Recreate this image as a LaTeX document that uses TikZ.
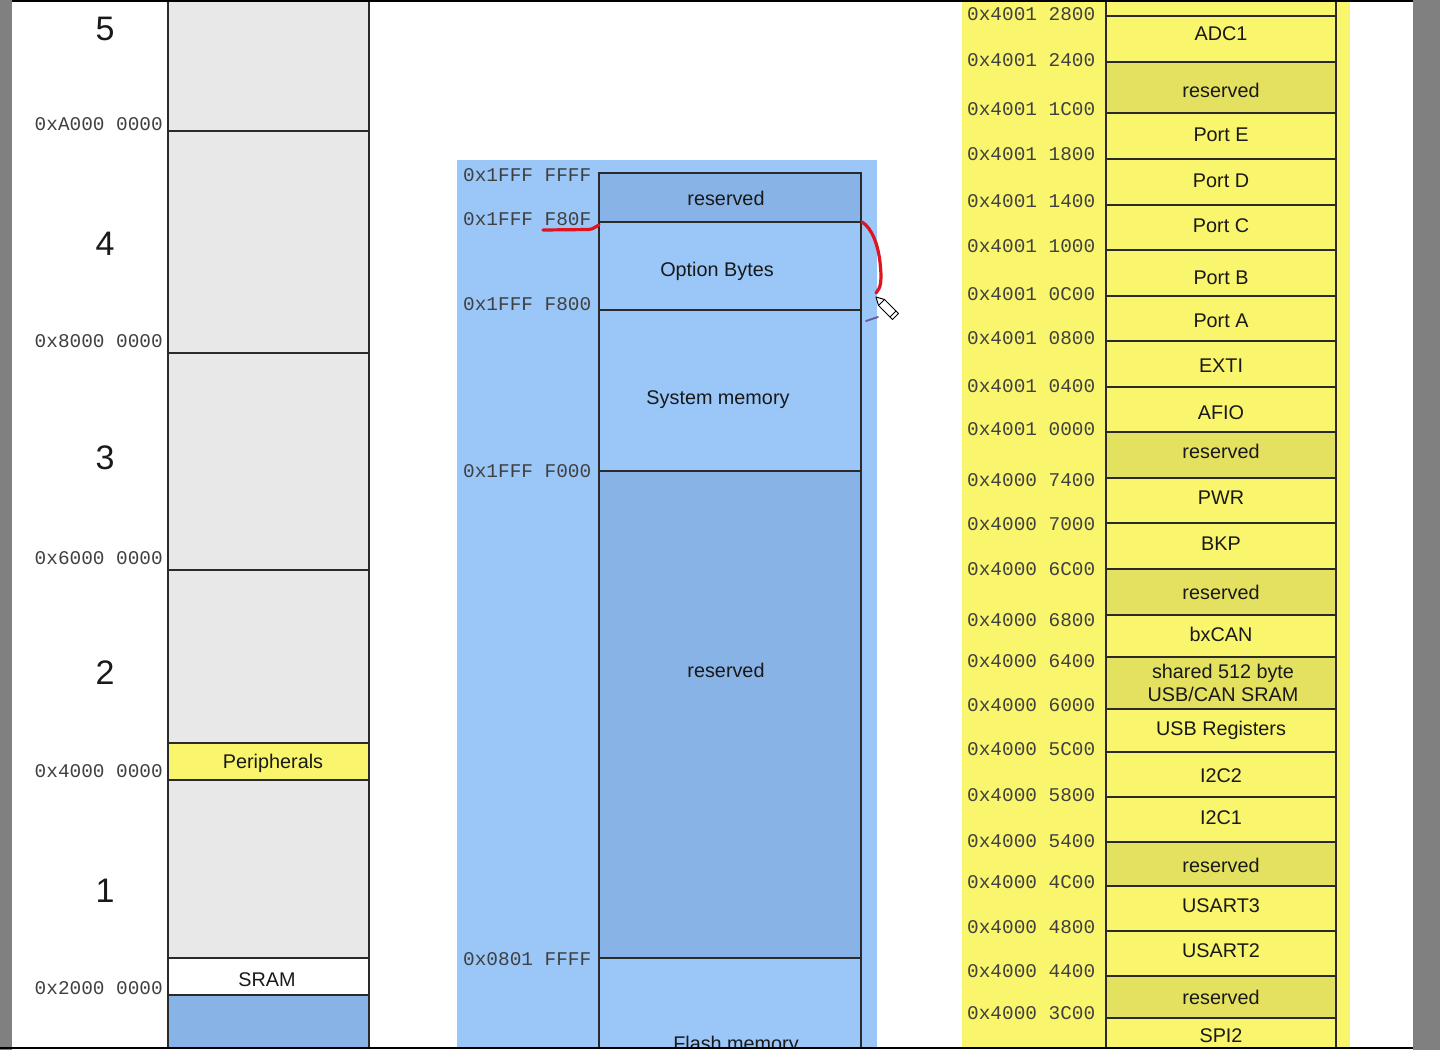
\documentclass[tikz,border=0pt]{standalone}
\usepackage{fontspec}
\setmainfont{Liberation Sans}
\newfontfamily\addrfont{Liberation Mono}
\definecolor{gry}{HTML}{E8E8E8}
\definecolor{ylw}{HTML}{F9F56C}
\definecolor{ylwd}{HTML}{E4E160}
\definecolor{blu}{HTML}{9AC6F8}
\definecolor{blud}{HTML}{88B3E6}
\definecolor{edge}{HTML}{2A2A2A}
\definecolor{marker}{HTML}{E0141E}
\definecolor{purp}{HTML}{6A5A9A}
\tikzset{
  addr/.style={font=\addrfont\fontsize{19.4}{20}\selectfont, text=black!75, inner sep=0pt},
  lbl/.style={font=\fontsize{19.8}{22}\selectfont, text=black!90, inner sep=0pt, align=center, yshift=-1.5pt},
  big/.style={font=\fontsize{34}{36}\selectfont, text=black!90, inner sep=0pt, yshift=-1pt},
  cell/.style={draw=edge, line width=1.8pt},
  ycell/.style={draw=edge, line width=2.4pt},
}
\begin{document}
\begin{tikzpicture}[x=1pt,y=-1pt]
\useasboundingbox (0,0) rectangle (1440,1050);
\fill[white] (0,0) rectangle (1440,1050);
\begin{scope}
\clip (0,0) rectangle (1440,1047);
% ---------------- left column ----------------
\fill[gry] (168,0) rectangle (369,743);
\fill[ylw] (168,743) rectangle (369,780);
\fill[gry] (168,780) rectangle (369,958);
\fill[white] (168,958) rectangle (369,995);
\fill[blud] (168,995) rectangle (369,1050);
\draw[cell] (168,0) -- (168,1050) (369,0) -- (369,1050);
\foreach \yy in {131,353,570,743,780,958,995} \draw[cell] (168,\yy) -- (369,\yy);
\node[lbl] (periph) at (273,762) {Peripherals};
\node[lbl] (sram) at (267,978) {SRAM};
\node[big] (n5) at (105,28) {5};
\node[big] (n4) at (105,243) {4};
\node[big] (n3) at (105,457) {3};
\node[big] (n2) at (105,672) {2};
\node[big] (n1) at (105,890) {1};
\node[addr, anchor=east] (la) at (163,124) {0xA000 0000};
\node[addr, anchor=east] (l8) at (163,341) {0x8000 0000};
\node[addr, anchor=east] (l6) at (163,558) {0x6000 0000};
\node[addr, anchor=east] (l4) at (163,771) {0x4000 0000};
\node[addr, anchor=east] (l2) at (163,988) {0x2000 0000};
% ---------------- middle column ----------------
\fill[blu] (457,160) rectangle (877,1050);
\fill[blud] (599,173) rectangle (861,222);
\fill[blud] (599,471) rectangle (861,958);
\draw[cell] (599,1050) -- (599,173) -- (861,173) -- (861,1050);
\foreach \yy in {222,310,471,958} \draw[cell] (599,\yy) -- (861,\yy);
\node[lbl] (mres1) at (726,197) {reserved};
\node[lbl] (mopt) at (717,270) {Option Bytes};
\node[lbl] (msys) at (718,398) {System memory};
\node[lbl] (mres2) at (726,669) {reserved};
\node[lbl] (mflash) at (736,1044) {Flash memory};
\node[addr, anchor=west] (m1) at (463,175) {0x1FFF FFFF};
\node[addr, anchor=west] (m2) at (463,219) {0x1FFF F80F};
\node[addr, anchor=west] (m3) at (463,304) {0x1FFF F800};
\node[addr, anchor=west] (m4) at (463,471) {0x1FFF F000};
\node[addr, anchor=west] (m5) at (463,959) {0x0801 FFFF};
% hand-drawn marks
\draw[marker, line width=3.2pt, line cap=round] (543,230) -- (589,229.5) .. controls (594,229) and (596,226) .. (599,225);
\draw[marker, line width=3.2pt, line cap=round] (862,222) .. controls (872,228) and (878,245) .. (880,262) .. controls (882,280) and (881,288) .. (876,293);
\draw[fill=white, draw=black, line width=1pt, line join=round] (876,297) -- (884.5,299.5) -- (898.5,313.5) -- (892.5,319.5) -- (878.5,305.5) -- cycle;
\draw[black, line width=1pt] (884.5,299.5) -- (878.5,305.5) (896,311) -- (890,317);
\draw[purp, line width=1.8pt, line cap=round] (866,321) -- (878,317);
% ---------------- right column ----------------
\fill[ylw] (962,0) rectangle (1350,1050);
\foreach \t/\b/\c/\ly/\txt [count=\i] in {
  16/62/ylw/32/ADC1, 62/113/ylwd/89/reserved, 113/159/ylw/133/Port E,
  159/205/ylw/179/Port D, 205/250/ylw/224/Port C, 250/296/ylw/276/Port B,
  296/341/ylw/319/Port A, 341/387/ylw/364/EXTI, 387/432/ylw/411/AFIO,
  432/478/ylwd/450/reserved, 478/523/ylw/496/PWR, 523/569/ylw/542/BKP,
  569/615/ylwd/591/reserved, 615/657/ylw/633/bxCAN,
  709/752/ylw/729/USB Registers, 752/797/ylw/774/I2C2, 797/842/ylw/816/I2C1,
  842/886/ylwd/864/reserved, 886/931/ylw/904/USART3, 931/976/ylw/949/USART2,
  976/1018/ylwd/996/reserved, 1018/1050/ylw/1034/SPI2}{
  \fill[\c] (1106,\t) rectangle (1336,\b);
  \node[lbl] (r\i) at (1221,\ly) {\txt};
}
\fill[ylwd] (1106,657) rectangle (1336,709);
\node[lbl, font=\fontsize{19.8}{23}\selectfont] (rshared) at (1223,681) {shared 512 byte\\USB/CAN SRAM};
\draw[ycell] (1106,0) -- (1106,1050) (1336,0) -- (1336,1050);
\foreach \yy in {16,62,113,159,205,250,296,341,387,432,478,523,569,615,657,709,752,797,842,886,931,976,1018}
  \draw[ycell] (1106,\yy) -- (1336,\yy);
\foreach \yy/\txt [count=\j] in {14/0x4001 2800, 60/0x4001 2400, 109/0x4001 1C00, 154/0x4001 1800,
  201/0x4001 1400, 246/0x4001 1000, 294/0x4001 0C00, 338/0x4001 0800, 386/0x4001 0400,
  429/0x4001 0000, 480/0x4000 7400, 524/0x4000 7000, 569/0x4000 6C00, 620/0x4000 6800,
  661/0x4000 6400, 705/0x4000 6000, 749/0x4000 5C00, 795/0x4000 5800, 841/0x4000 5400,
  882/0x4000 4C00, 927/0x4000 4800, 971/0x4000 4400, 1013/0x4000 3C00}{
  \node[addr, anchor=west] (a\j) at (967,\yy) {\txt};
}
\end{scope}
% frame strips
\fill[black!50] (0,0) rectangle (12,1050);
\fill[black!50] (1413,0) rectangle (1440,1050);
\draw[black, line width=1.6pt] (12,0.8) -- (1413,0.8);
\draw[black, line width=1.6pt] (0,1048) -- (1413,1048);
\end{tikzpicture}
\end{document}
